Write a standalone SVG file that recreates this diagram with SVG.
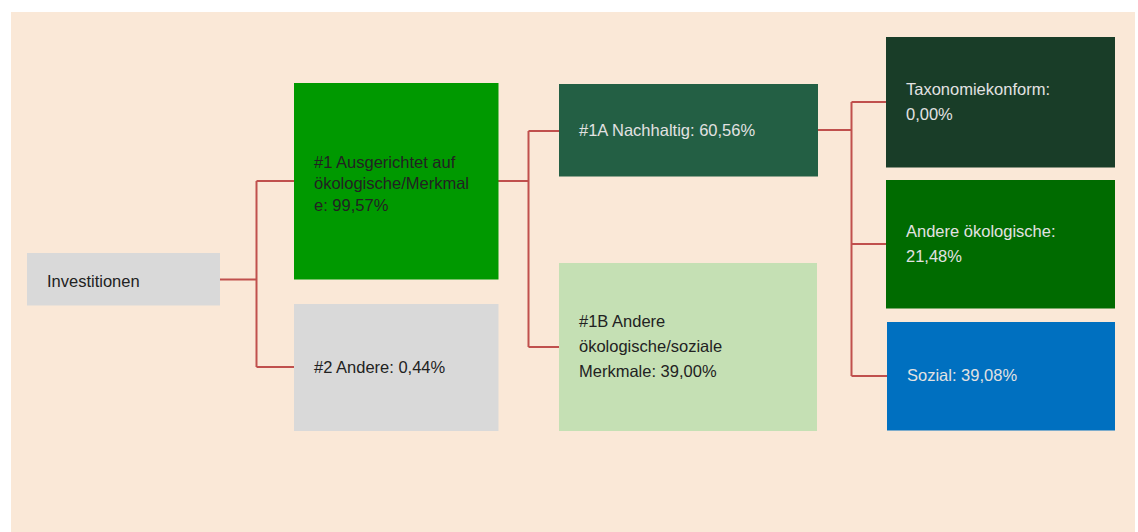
<svg xmlns="http://www.w3.org/2000/svg" width="1138" height="532" viewBox="0 0 1138 532">
<style>
text{font-family:"Liberation Sans",Arial,sans-serif;font-size:16.5px}
.dk{fill:#222222}
.lt{fill:#E2E2E2}
.conn{fill:none;stroke:#C0504D;stroke-width:2}
</style>
<rect x="0" y="0" width="1138" height="532" fill="#FFFFFF"/>
<rect x="11" y="12" width="1124" height="520" fill="#FAE8D7"/>
<g id="connectors">
<path class="conn" d="M220 279.5H256.5M256.5 181V367M256.5 181H294M256.5 367H294"/>
<path class="conn" d="M498 181H528.5M528.5 131V347M528.5 131H559M528.5 347H559"/>
<path class="conn" d="M818 130H851.5M851.5 102V376M851.5 102H886M851.5 244H886M851.5 376H887"/>
</g>
<g id="investitionen">
<rect x="27" y="253" width="193" height="52.5" fill="#D9D9D9"/>
<text class="dk" x="47" y="287">Investitionen</text>
</g>
<g id="n1">
<rect x="294" y="83" width="204.5" height="196.5" fill="#009900"/>
<text class="dk" x="314" y="167.5">#1 Ausgerichtet auf</text>
<text class="dk" x="314" y="189">ökologische/Merkmal</text>
<text class="dk" x="314" y="211">e: 99,57%</text>
</g>
<g id="n2">
<rect x="294" y="304" width="204.5" height="127" fill="#D9D9D9"/>
<text class="dk" x="314" y="373">#2 Andere: 0,44%</text>
</g>
<g id="n1a">
<rect x="559" y="84" width="259" height="92.5" fill="#235F44"/>
<text class="lt" x="579" y="136">#1A Nachhaltig: 60,56%</text>
</g>
<g id="n1b">
<rect x="559" y="263" width="258" height="168" fill="#C5E0B4"/>
<text class="dk" x="579" y="327">#1B Andere</text>
<text class="dk" x="579" y="352">ökologische/soziale</text>
<text class="dk" x="579" y="377">Merkmale: 39,00%</text>
</g>
<g id="taxonomie">
<rect x="886" y="37" width="229" height="130.5" fill="#193D28"/>
<text class="lt" x="906" y="95">Taxonomiekonform:</text>
<text class="lt" x="906" y="119.5">0,00%</text>
</g>
<g id="andere">
<rect x="886" y="180" width="229" height="128.5" fill="#006B00"/>
<text class="lt" x="906" y="237">Andere ökologische:</text>
<text class="lt" x="906" y="262">21,48%</text>
</g>
<g id="sozial">
<rect x="887" y="322" width="228" height="108.5" fill="#0070C0"/>
<text class="lt" x="907" y="381">Sozial: 39,08%</text>
</g>
</svg>
